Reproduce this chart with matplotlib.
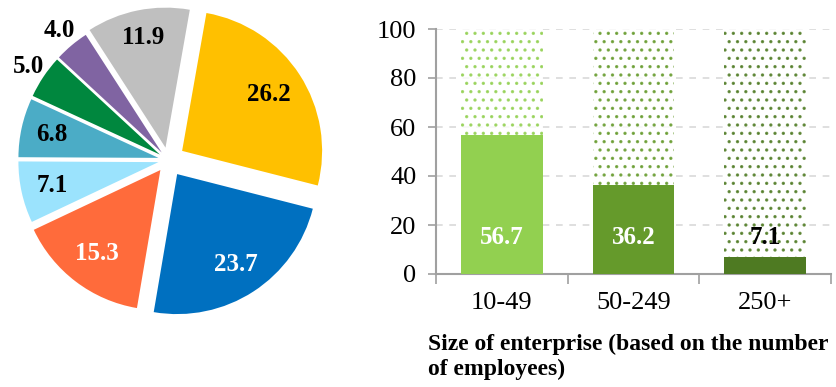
import numpy as np
import matplotlib
matplotlib.use('Agg')
import matplotlib.pyplot as plt

plt.rcParams['font.family'] = ['Liberation Serif', 'DejaVu Serif']
plt.rcParams['hatch.linewidth'] = 1.2

# pie data, clockwise from the top
pie_values = [26.2, 23.7, 15.3, 7.1, 6.8, 5.0, 4.0, 11.9]
pie_colors = ['#FFC000', '#0070C0', '#FF6B3B', '#9BE3FD', '#4BACC6', '#00873E', '#8064A2', '#BFBFBF']
pie_text_colors = ['black', 'white', 'white', 'black', 'black', 'black', 'black', 'black']
pie_explode = [0.12, 0.12, 0.09, 0.07, 0.07, 0.07, 0.07, 0.09]
pie_label_r = [0.86, 0.89, 0.84, 0.85, 0.85, 1.2, 1.21, 0.89]

# bar data
sizes = ['10-49', '50-249', '250+']
shares = [56.7, 36.2, 7.1]
bar_colors = ['#92D050', '#659A2B', '#4E7A22']
bar_text_colors = ['white', 'white', 'black']

fig = plt.figure(figsize=(8.36, 3.87), dpi=100)
W, H = 836, 387

# ---- pie ----
R = 140.0
cx, cy = 168, 160
ax1 = fig.add_axes([0, 0, 340 / W, 1])
wedges, _ = ax1.pie(pie_values, colors=pie_colors, explode=pie_explode,
                    startangle=80, counterclock=False, radius=1,
                    wedgeprops=dict(linewidth=0))
ax1.set_xlim(-cx / R, (340 - cx) / R)
ax1.set_ylim(-(H - cy) / R, cy / R)
ax1.set_aspect('equal')
ax1.axis('off')
for w, v, tc, r in zip(wedges, pie_values, pie_text_colors, pie_label_r):
    ang = np.deg2rad((w.theta1 + w.theta2) / 2)
    ax1.text(r * np.cos(ang), r * np.sin(ang), f'{v:.1f}', ha='center', va='center',
             fontsize=18, fontweight='bold', color=tc)

# ---- bars ----
ax2 = fig.add_axes([436 / W, (H - 274) / H, (831 - 436) / W, (274 - 29) / H])
x = np.arange(len(sizes))
ax2.bar(x, shares, width=0.62, color=bar_colors, zorder=3)
rest = [100 - s for s in shares]
ax2.bar(x, rest, bottom=shares, width=0.62, color='white', edgecolor=bar_colors,
        hatch='..', linewidth=0, zorder=3, alpha=0.8)
for xi, tc, s in zip(x, bar_text_colors, shares):
    ax2.text(xi, 15, f'{s:.1f}', ha='center', va='center', fontsize=18,
             fontweight='bold', color=tc, zorder=4)

ax2.set_xlim(-0.5, 2.5)
ax2.set_ylim(0, 100)
ax2.set_yticks(range(0, 101, 20))
ax2.yaxis.grid(True, color='#D9D9D9', linestyle=(0, (4, 4)), linewidth=1.2, zorder=0)
ax2.set_xticks(x)
ax2.set_xticklabels(sizes)
ax2.set_xticks([-0.5, 0.5, 1.5, 2.5], minor=True)
ax2.tick_params(axis='x', which='major', length=0, pad=13, labelsize=19)
ax2.tick_params(axis='x', which='minor', length=7, width=1.2, color='#A0A0A0', direction='out')
ax2.tick_params(axis='y', length=6, width=1.2, color='#A0A0A0', labelsize=19, pad=8)
for side in ['top', 'right']:
    ax2.spines[side].set_visible(False)
for side in ['left', 'bottom']:
    ax2.spines[side].set_color('#A0A0A0')
    ax2.spines[side].set_linewidth(1.5)

fig.text(428 / W, 1 - 357 / H, 'Size of enterprise (based on the number\nof employees)',
         ha='left', va='center', fontsize=17, fontweight='bold', linespacing=1.25)

fig.savefig('out.png', dpi=100)
